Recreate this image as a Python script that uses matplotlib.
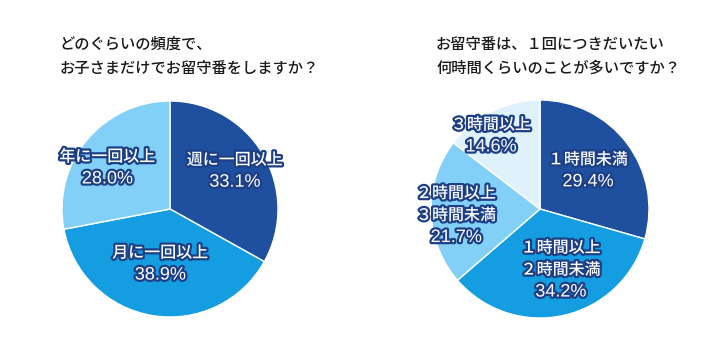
import matplotlib
matplotlib.use("Agg")
import matplotlib.pyplot as plt
import matplotlib.patheffects as pe

plt.rcParams['font.family'] = ['Noto Sans CJK JP', 'DejaVu Sans']

W, H = 709, 352

title_left = ["どのぐらいの頻度で、", "お子さまだけでお留守番をしますか？"]
labels_left = ["週に一回以上", "月に一回以上", "年に一回以上"]
values_left = [33.1, 38.9, 28.0]

title_right = ["お留守番は、１回につきだいたい", "何時間くらいのことが多いですか？"]
labels_right = ["１時間未満", "１時間以上\n２時間未満", "２時間以上\n３時間未満", "３時間以上"]
values_right = [29.4, 34.2, 21.7, 14.6]

colors_left = ["#1f4f9f", "#149de0", "#82d0f7"]
colors_right = ["#1f4f9f", "#149de0", "#82d0f7", "#dff2fc"]

# label block centre positions (in units of radius)
pos_left = [(0.60, 0.35), (-0.09, -0.51), (-0.58, 0.38)]
pos_right = [(0.44, 0.35), (0.19, -0.56), (-0.77, -0.06), (-0.45, 0.67)]

fig = plt.figure(figsize=(W / 100, H / 100), dpi=100)
fig.patch.set_facecolor("white")

stroke = [pe.withStroke(linewidth=3.2, foreground="#1c3f86")]
LINE = 22  # px between label lines


def draw(cx, cy, r, values, labels, colors, positions, title, tx, ty):
    ax = fig.add_axes([(cx - r) / W, (H - cy - r) / H, 2 * r / W, 2 * r / H])
    ax.pie(values, colors=colors, startangle=90, counterclock=False,
           radius=1.0, wedgeprops=dict(edgecolor="white", linewidth=1))
    ax.set_xlim(-1.0, 1.0)
    ax.set_ylim(-1.0, 1.0)
    ax.set_aspect("equal")
    ax.axis("off")
    for lab, v, (x, y) in zip(labels, values, positions):
        lines = lab.split("\n") + [f"{v:.1f}%"]
        n = len(lines)
        for i, line in enumerate(lines):
            dy = -(i - (n - 1) / 2) * LINE * 0.72  # px -> pt at 100 dpi
            is_num = i == n - 1
            ax.annotate(line, (x, y), xytext=(0, dy), textcoords="offset points",
                        ha="center", va="center",
                        fontsize=13 if is_num else 11.5,
                        family=['Liberation Sans', 'Noto Sans CJK JP'] if is_num
                        else ['Noto Sans CJK JP', 'DejaVu Sans'],
                        fontweight="normal" if is_num else "medium",
                        color="white", path_effects=stroke)
    for i, line in enumerate(title):
        fig.text(tx / W, 1 - (ty + i * 24) / H, line, ha="left", va="center",
                 fontsize=11, color="#1a1a1a", fontweight="medium")


draw(170, 209, 108, values_left, labels_left, colors_left, pos_left,
     title_left, 60, 44)
draw(540, 209, 109, values_right, labels_right, colors_right, pos_right,
     title_right, 436, 44)

fig.savefig("out.png", dpi=100, facecolor="white")
